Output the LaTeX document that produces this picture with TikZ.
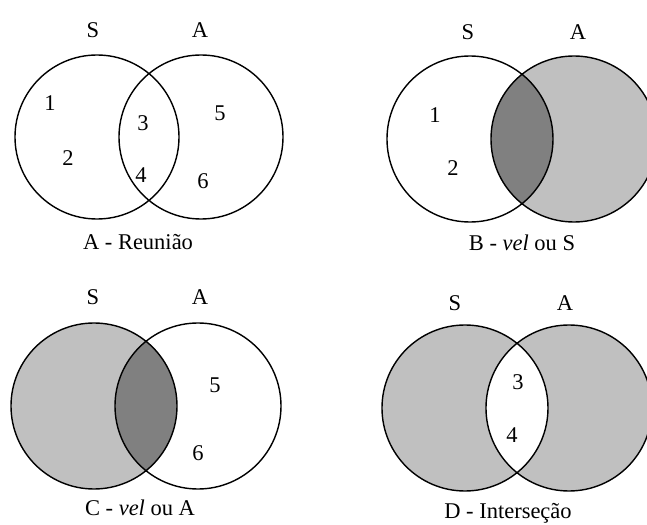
\documentclass[tikz,border=0pt]{standalone}
\usepackage{fontspec}
\setmainfont{Liberation Serif}
\definecolor{lightgrey}{HTML}{C0C0C0}
\definecolor{darkgrey}{HTML}{808080}

\begin{document}
\begin{tikzpicture}[x=0.025cm,y=-0.025cm, every node/.style={align=center, font=\fontsize{16}{18}\selectfont},
    ring/.style={line width=1pt}]
  \clip (0,0) rectangle (647,525);
  \fill[white] (0,0) rectangle (647,525);

  % A - Reuniao
  \coordinate (aS) at (97,137);
  \coordinate (aA) at (201,137);
  \draw[ring] (aS) circle (82) (aA) circle (82);
  \node (aSlab) at (93,30) {S};
  \node (aAlab) at (200,30) {A};
  \node (a1) at (50,103) {1};
  \node (a2) at (68,158) {2};
  \node (a3) at (143,123) {3};
  \node (a4) at (141,175) {4};
  \node (a5) at (220,113) {5};
  \node (a6) at (203,181) {6};
  \node (aCap) at (138,242) {A - Reunião};

  % B - vel ou S
  \coordinate (bS) at (470,139);
  \coordinate (bA) at (574,139);
  \fill[lightgrey] (bA) circle (83);
  \begin{scope}
    \clip (bS) circle (83);
    \fill[darkgrey] (bA) circle (83);
  \end{scope}
  \draw[ring] (bS) circle (83) (bA) circle (83);
  \node (bSlab) at (468,32) {S};
  \node (bAlab) at (578,32) {A};
  \node (b1) at (435,115) {1};
  \node (b2) at (453,168) {2};
  \node (bCap) at (522,243) {B - \textit{vel} ou S};

  % C - vel ou A
  \coordinate (cS) at (94,406);
  \coordinate (cA) at (198,406);
  \fill[lightgrey] (cS) circle (83);
  \begin{scope}
    \clip (cA) circle (83);
    \fill[darkgrey] (cS) circle (83);
  \end{scope}
  \draw[ring] (cS) circle (83) (cA) circle (83);
  \node (cSlab) at (93,297) {S};
  \node (cAlab) at (200,297) {A};
  \node (c5) at (215,385) {5};
  \node (c6) at (198,453) {6};
  \node (cCap) at (140,508) {C - \textit{vel} ou A};

  % D - Intersecao
  \coordinate (dS) at (465,408);
  \coordinate (dA) at (569,408);
  \fill[lightgrey] (dS) circle (83) (dA) circle (83);
  \begin{scope}
    \clip (dS) circle (83);
    \fill[white] (dA) circle (83);
  \end{scope}
  \draw[ring] (dS) circle (83) (dA) circle (83);
  \node (dSlab) at (455,303) {S};
  \node (dAlab) at (565,303) {A};
  \node (d3) at (518,382) {3};
  \node (d4) at (512,435) {4};
  \node (dCap) at (508,513) {D - Interseção};
\end{tikzpicture}
\end{document}
